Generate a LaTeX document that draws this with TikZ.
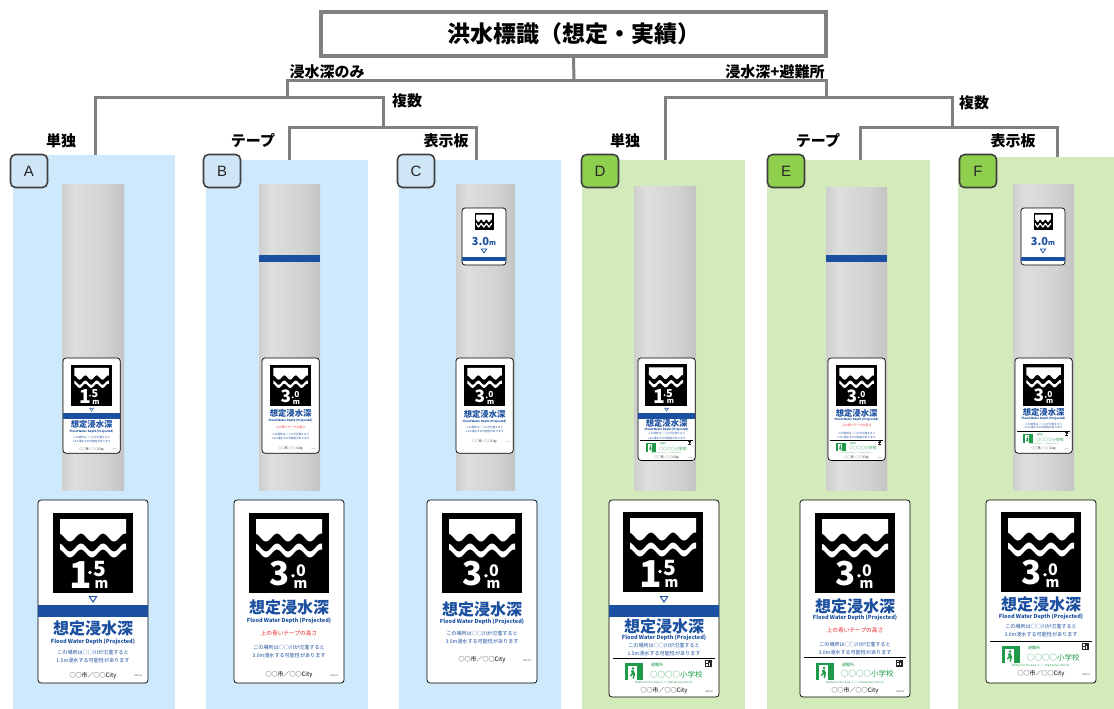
\documentclass[tikz,border=0pt]{standalone}
\usepackage{fontspec}
\setmainfont{Noto Sans CJK JP}
\newfontfamily\latinsans{Liberation Sans}

\definecolor{treegray}{HTML}{808080}
\definecolor{panelblue}{HTML}{CDE9FB}
\definecolor{panelgreen}{HTML}{D3EBBA}
\definecolor{badgeblue}{HTML}{CFE6F7}
\definecolor{badgegreen}{HTML}{8ED04E}
\definecolor{badgeedge}{HTML}{404040}
\definecolor{signblue}{HTML}{1B4F9F}
\definecolor{signred}{HTML}{E8282B}
\definecolor{sheltergreen}{HTML}{1E9A48}
\definecolor{poleA}{HTML}{A9A9A9}
\definecolor{poleB}{HTML}{DEDEDE}
\definecolor{poleC}{HTML}{D2D2D2}
\definecolor{poleD}{HTML}{ABABAB}

% horizontal gradient of a round steel pole
\pgfdeclarehorizontalshading{pole}{100bp}{color(0bp)=(poleA); color(35bp)=(poleB); color(60bp)=(poleC); color(100bp)=(poleD)}

\tikzset{
  tree/.style={draw=treegray, line width=3},
  lbl/.style={font=\bfseries\fontsize{15}{15}\selectfont, inner sep=0},
  badge/.style={draw=badgeedge, line width=1.6, rounded corners=5, minimum width=37, minimum height=33,
    inner sep=0, font=\latinsans\fontsize{15}{15}\selectfont, text=black!85},
  panel/.style={draw=none, inner sep=0, anchor=north west},
  signframe/.style={fill=white, draw=black, line width=0.7, rounded corners=3},
  head/.style={font=\bfseries\fontsize{16}{16}\selectfont, text=signblue, inner sep=0},
  en/.style={font=\bfseries\fontsize{5.5}{6}\selectfont, text=signblue, inner sep=0},
  note/.style={font=\fontsize{5.1}{6}\selectfont, text=signblue, inner sep=0},
  rednote/.style={font=\fontsize{5.7}{6}\selectfont, text=signred, inner sep=0},
  city/.style={font=\fontsize{6}{7}\selectfont, inner sep=0},
  code/.style={font=\fontsize{2.4}{3}\selectfont, text=black!70, inner sep=0},
  digit/.style={text=white, inner sep=0, anchor=base, text depth=0pt},
  shsmall/.style={font=\fontsize{4}{5}\selectfont, text=sheltergreen, inner sep=0},
  shschool/.style={font=\fontsize{7.5}{8}\selectfont, text=sheltergreen, inner sep=0},
  shen/.style={font=\fontsize{2.7}{3}\selectfont, text=sheltergreen, inner sep=0},
  platenum/.style={font=\bfseries\fontsize{11}{11}\selectfont, text=signblue, inner sep=0},
}

% water surface and wave, drawn in an 80 x 50 box (period 22)
\newcommand\waves{%
  \fill[white] (7,6) -- (73,6) -- plot[domain=73:7,samples=61] (\x,{24.5+4*cos(16.3636*(\x-17))}) -- cycle;
  \fill[white] plot[domain=7:73,samples=61] (\x,{34.5+4*cos(16.3636*(\x-17))})
     -- plot[domain=73:7,samples=61] (\x,{40.5+4*cos(16.3636*(\x-17))}) -- cycle;
}

% depth pictogram, 80 x 80 (digits placed by their baselines)
\newcommand\iconOneFive{%
  \fill[black] (0,0) rectangle (80,80);
  \waves
  \node[digit, text height=27pt, font=\bfseries\fontsize{37}{37}\selectfont] (d1) at (27.4,75) {1};
  \fill[white] (37,59.5) circle (1.9);
  \node[digit, text height=15pt, font=\bfseries\fontsize{21}{21}\selectfont] (d2) at (46.5,63.5) {5};
  \node[digit, text height=7.5pt, font=\bfseries\fontsize{14}{14}\selectfont] (dm) at (48.5,75.5) {m};
}
\newcommand\iconThree{%
  \fill[black] (0,0) rectangle (80,80);
  \waves
  \node[digit, text height=24pt, font=\bfseries\fontsize{33}{33}\selectfont] (d1) at (30.7,72.5) {3};
  \fill[white] (44,62.7) circle (1.9);
  \node[digit, text height=11.5pt, font=\bfseries\fontsize{16}{16}\selectfont] (d2) at (52,63.5) {0};
  \node[digit, text height=7.5pt, font=\bfseries\fontsize{14}{14}\selectfont] (dm) at (51.5,75.5) {m};
}

% downward triangle marking the depth line
\newcommand\tri[2]{%
  \fill[signblue] (#1-4.5,#2) -- (#1+4.5,#2) -- (#1,#2+7) -- cycle;
  \fill[white] (#1-2.5,#2+1.2) -- (#1+2.5,#2+1.2) -- (#1,#2+5) -- cycle;
}

% evacuation shelter block below a separator at height #1
\newcommand\shelter[1]{%
  \fill[black] (4,#1-0.4) rectangle (106,#1+0.4);
  \fill[sheltergreen] (16,#1+5) rectangle (34,#1+22);
  \fill[white] (18.5,#1+7.5) rectangle (27.5,#1+22);
  \fill[sheltergreen] (24,#1+10.5) circle (1.3);
  \fill[sheltergreen] (21.8,#1+12.6) -- (24.5,#1+12.2) -- (26,#1+15.8) -- (25,#1+20.5) -- (23.6,#1+20.5)
     -- (24.2,#1+16.3) -- (21.8,#1+18.5) -- (20.8,#1+17.7) -- (22.8,#1+15.2) -- cycle;
  \node[shsmall, anchor=west] (shl) at (42,#1+7) {避難所};
  \node[shschool, anchor=west] (shn) at (41,#1+16.5) {○○○○小学校};
  \fill[black!85] (96,#1+2) rectangle (102.5,#1+9);
  \fill[white] (97,#1+3) rectangle (98.7,#1+4.7);
  \fill[white] (99.8,#1+5.2) rectangle (101.4,#1+7.8);
  \fill[white] (97,#1+5.9) rectangle (98.6,#1+7.8);
  \node[shen] (she) at (55,#1+25) {Shelter for this area is ○○ Elementary School.};
}

% full signs, 110 wide, origin at the top left corner
\newcommand\signA{%
  \draw[signframe] (0,0) rectangle (110,183);
  \begin{scope}[shift={(15,13)}]\iconOneFive\end{scope}
  \tri{55}{96}
  \fill[signblue] (0,105) rectangle (110,117);
  \node[head] (h) at (55,128) {想定浸水深};
  \node[en] (e) at (55,142) {Flood Water Depth (Projected)};
  \node[note] (n1) at (55,152.5) {この場所は○○川が氾濫すると};
  \node[note] (n2) at (55,160.5) {1.5m浸水する可能性があります};
  \node[city] (c) at (55,175.5) {○○市／○○City};
  \node[code] (k) at (100,176) {H29.06};
}
\newcommand\signB{%
  \draw[signframe] (0,0) rectangle (110,183);
  \begin{scope}[shift={(15,13)}]\iconThree\end{scope}
  \node[head] (h) at (55,107) {想定浸水深};
  \node[en] (e) at (55,121) {Flood Water Depth (Projected)};
  \node[rednote] (r) at (55,133) {上の青いテープの高さ};
  \node[note] (n1) at (55,147.5) {この場所は○○川が氾濫すると};
  \node[note] (n2) at (55,155.5) {3.0m浸水する可能性があります};
  \node[city] (c) at (55,175) {○○市／○○City};
  \node[code] (k) at (100,176) {H29.06};
}
\newcommand\signC{%
  \draw[signframe] (0,0) rectangle (110,183);
  \begin{scope}[shift={(15,13)}]\iconThree\end{scope}
  \node[head] (h) at (55,109) {想定浸水深};
  \node[en] (e) at (55,122) {Flood Water Depth (Projected)};
  \node[note] (n1) at (55,134) {この場所は○○川が氾濫すると};
  \node[note] (n2) at (55,142) {3.0m浸水する可能性があります};
  \node[city] (c) at (55,160) {○○市／○○City};
  \node[code] (k) at (100,161) {H29.06};
}
\newcommand\signD{%
  \draw[signframe] (0,0) rectangle (110,197);
  \begin{scope}[shift={(14,12)}]\iconOneFive\end{scope}
  \tri{55}{96}
  \fill[signblue] (0,105) rectangle (110,117);
  \node[head] (h) at (55,126) {想定浸水深};
  \node[en] (e) at (55,138) {Flood Water Depth (Projected)};
  \node[note] (n1) at (55,146) {この場所は○○川が氾濫すると};
  \node[note] (n2) at (55,154) {1.5m浸水する可能性があります};
  \shelter{158}
  \node[city] (c) at (55,191) {○○市／○○City};
  \node[code] (k) at (100,192) {H29.06};
}
\newcommand\signE{%
  \draw[signframe] (0,0) rectangle (110,197);
  \begin{scope}[shift={(15,13)}]\iconThree\end{scope}
  \node[head] (h) at (55,106) {想定浸水深};
  \node[en] (e) at (55,118) {Flood Water Depth (Projected)};
  \node[rednote] (r) at (55,130) {上の青いテープの高さ};
  \node[note] (n1) at (55,145) {この場所は○○川が氾濫すると};
  \node[note] (n2) at (55,153) {3.0m浸水する可能性があります};
  \shelter{157.5}
  \node[city] (c) at (55,191) {○○市／○○City};
  \node[code] (k) at (100,192) {H29.06};
}
\newcommand\signF{%
  \draw[signframe] (0,0) rectangle (110,183);
  \begin{scope}[shift={(15,12)}]\iconThree\end{scope}
  \node[head] (h) at (55,104) {想定浸水深};
  \node[en] (e) at (55,116.5) {Flood Water Depth (Projected)};
  \node[note] (n1) at (55,127) {この場所は○○川が氾濫すると};
  \node[note] (n2) at (55,134.5) {3.0m浸水する可能性があります};
  \shelter{141}
  \node[city] (c) at (55,173.5) {○○市／○○City};
  \node[code] (k) at (100,175) {H29.06};
}

% small depth plate fixed high on the pole, 44 x 57
\newcommand\plate{%
  \draw[signframe] (0,0) rectangle (44,57);
  \fill[black] (12.5,4.5) rectangle (31.5,21.5);
  \begin{scope}[shift={(12.5,4.5)}, xscale=0.2375, yscale=0.34]\waves\end{scope}
  \node[platenum] (pn) at (22,34) {3.0{\fontsize{7}{7}\selectfont m}};
  \fill[signblue] (18.5,40.5) -- (25.5,40.5) -- (22,45.5) -- cycle;
  \fill[white] (20.3,41.4) -- (23.7,41.4) -- (22,44) -- cycle;
  \fill[signblue] (0,48.5) rectangle (44,53);
}

% place sign #3 at #1, scaled by #2, node names prefixed by #4
\newcommand\putsign[4]{%
  \begin{scope}[shift={#1}, scale=#2, transform shape, name prefix=#4]#3\end{scope}}

\begin{document}
\begin{tikzpicture}[x=1pt, y=-1pt]
\useasboundingbox (0,0) rectangle (1114,709);
\fill[white] (0,0) rectangle (1114,709);

% category panels
\node[panel, fill=panelblue,  minimum width=162, minimum height=554] (pA) at (13,155) {};
\node[panel, fill=panelblue,  minimum width=162, minimum height=549] (pB) at (206,160) {};
\node[panel, fill=panelblue,  minimum width=162, minimum height=549] (pC) at (399,160) {};
\node[panel, fill=panelgreen, minimum width=163, minimum height=549] (pD) at (582,160) {};
\node[panel, fill=panelgreen, minimum width=163, minimum height=549] (pE) at (767,160) {};
\node[panel, fill=panelgreen, minimum width=156, minimum height=552] (pF) at (958,157) {};

% title
\node[draw=treegray, line width=3.5, fill=white, minimum width=505, minimum height=44,
      font=\bfseries\fontsize{23}{23}\selectfont] (title) at (573.5,34) {洪水標識（想定・実績）};

% branching lines
\coordinate (root) at (574,81);
\coordinate (jL) at (287,81);   \coordinate (jR) at (826,81);
\coordinate (jL2) at (287,97);  \coordinate (jR2) at (826,97);
\coordinate (mL) at (383,97);   \coordinate (mR) at (952,97);
\coordinate (mL2) at (383,127); \coordinate (mR2) at (952,127);
\draw[tree] (title.south) -- (root);
\draw[tree] (jL2) -- (jL) -- (jR) -- (jR2);
\draw[tree] (pA.north -| 95,0) -- (95,97) -- (mL) -- (mL2);
\draw[tree] (pB.north -| 289,0) -- (289,127) -- (476,127) -- (pC.north -| 476,0);
\draw[tree] (pD.north -| 665,0) -- (665,97) -- (mR) -- (mR2);
\draw[tree] (pE.north -| 860,0) -- (860,127) -- (1057,127) -- (pF.north -| 1057,0);

% branch labels
\node[lbl] (l1) at (327,72) {浸水深のみ};
\node[lbl] (l2) at (407,101) {複数};
\node[lbl] (l3) at (61,141) {単独};
\node[lbl] (l4) at (253,141) {テープ};
\node[lbl] (l5) at (446,141) {表示板};
\node[lbl] (r1) at (775,72) {浸水深+避難所};
\node[lbl] (r2) at (974,103) {複数};
\node[lbl] (r3) at (625,141) {単独};
\node[lbl] (r4) at (818,141) {テープ};
\node[lbl] (r5) at (1013,141) {表示板};

% poles
\shade[shading=pole] (62,184) rectangle (124,490);
\shade[shading=pole] (259,184) rectangle (320,490);
\shade[shading=pole] (456,184) rectangle (515,490);
\shade[shading=pole] (634,186) rectangle (696,490);
\shade[shading=pole] (826,187) rectangle (887,490);
\shade[shading=pole] (1013,184) rectangle (1074,490);

% blue tape marking the depth on the pole
\fill[signblue] (259,255) rectangle (320,262);
\fill[signblue] (826,255) rectangle (887,262);

% plates high on the pole
\putsign{(462,208)}{1}{\plate}{pc-}
\putsign{(1021,208)}{1}{\plate}{pf-}

% signs mounted on the poles
\putsign{(63,358)}{0.52}{\signA}{a1-}
\putsign{(262,358)}{0.52}{\signB}{b1-}
\putsign{(456,358)}{0.52}{\signC}{c1-}
\putsign{(638,358)}{0.52}{\signD}{d1-}
\putsign{(828,358)}{0.52}{\signE}{e1-}
\putsign{(1015,358)}{0.52}{\signF}{f1-}

% signs at full size
\putsign{(38,500)}{1}{\signA}{a2-}
\putsign{(234,500)}{1}{\signB}{b2-}
\putsign{(427,500)}{1}{\signC}{c2-}
\putsign{(609,500)}{1}{\signD}{d2-}
\putsign{(800,500)}{1}{\signE}{e2-}
\putsign{(986,500)}{1}{\signF}{f2-}

% letter badges
\node[badge, fill=badgeblue]  (bA) at (29,171) {A};
\node[badge, fill=badgeblue]  (bB) at (222,171) {B};
\node[badge, fill=badgeblue]  (bC) at (416,171) {C};
\node[badge, fill=badgegreen] (bD) at (600,171) {D};
\node[badge, fill=badgegreen] (bE) at (786,171) {E};
\node[badge, fill=badgegreen] (bF) at (978,171) {F};
\end{tikzpicture}
\end{document}
